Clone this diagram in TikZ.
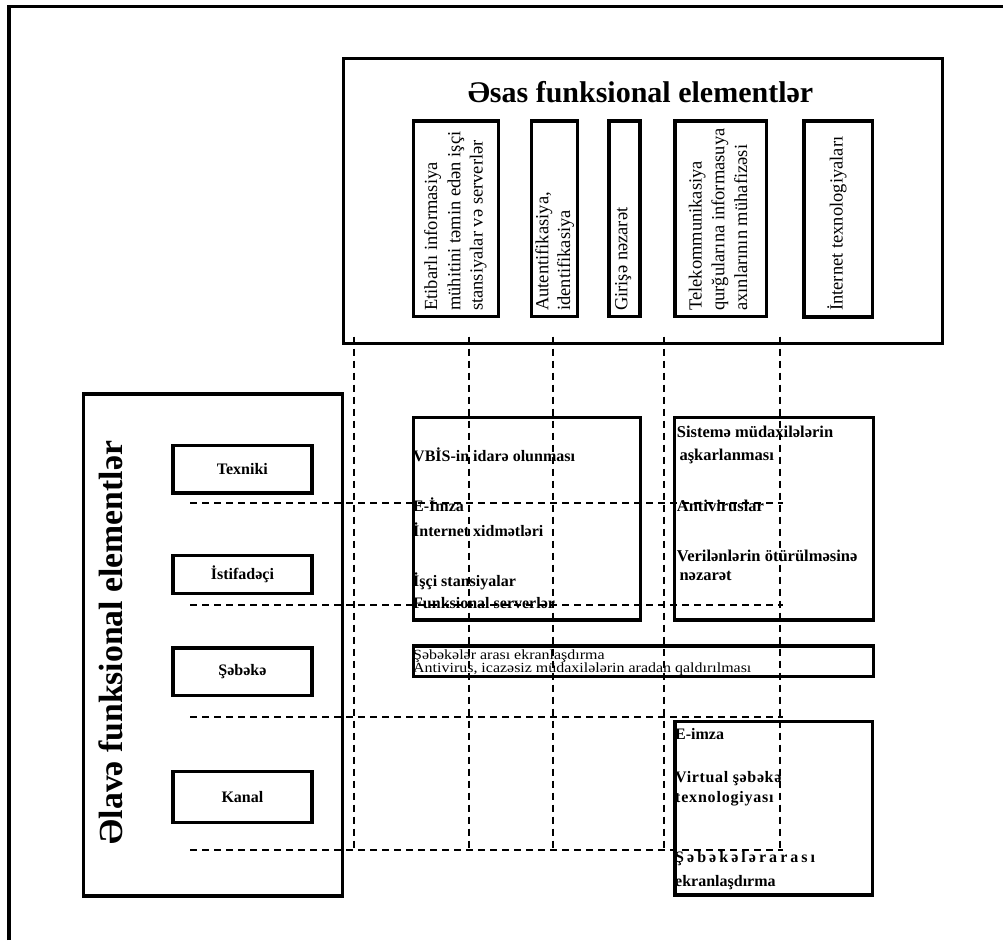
\documentclass[tikz,border=0pt]{standalone}
\usepackage{fontspec}
\setmainfont{Liberation Serif}
\newfontfamily\widefont[FakeStretch=1.14]{Liberation Serif}
\begin{document}
\begin{tikzpicture}[x=1pt,y=-1pt,
  box/.style={draw, line width=3.2pt, inner sep=0pt, anchor=north west},
  grid/.style={line width=1.8pt, dash pattern=on 7pt off 5pt},
  bt/.style={inner sep=0pt, anchor=base west, font=\fontsize{16}{18}\selectfont\bfseries},
  bts/.style={bt, font=\fontsize{16.5}{18}\selectfont\bfseries},
  rt/.style={inner sep=0pt, anchor=base west, font=\widefont\fontsize{14}{16}\selectfont},
  vt/.style={inner sep=0pt, anchor=base west, rotate=90, font=\fontsize{18.5}{20}\selectfont},
  lab/.style={box, font=\fontsize{16}{18}\selectfont\bfseries, minimum width=139pt}]
\useasboundingbox (0,0) rectangle (1003,940);
% outer frame (only top and left edges visible)
\draw[line width=3.3pt] (9,940) -- (9,6.7) -- (1003,6.7);

% top block
\node[box, minimum width=599pt, minimum height=285pt] (top) at (342,56.7) {};
\node[inner sep=0pt, anchor=base, font=\fontsize{30}{34}\selectfont\bfseries] (toptitle) at (640.5,102) {Əsas funksional elementlər};
\node[box, minimum width=85pt, minimum height=195.7pt] (b1) at (412,119.3) {};
\node[box, minimum width=45.7pt, minimum height=195.7pt] (b2) at (530,119.3) {};
\node[box, minimum width=31pt, minimum height=195.7pt] (b3) at (607.3,119.3) {};
\node[box, minimum width=91.7pt, minimum height=195.7pt] (b4) at (673.3,119.3) {};
\node[box, minimum width=68.4pt, minimum height=196pt] (b5) at (802.3,119.3) {};
\node[vt] (b1a) at (437,311) {Etibarlı informasiya};
\node[vt] (b1b) at (460.3,311) {mühitini təmin edən işçi};
\node[vt] (b1c) at (482.5,311) {stansiyalar və serverlər};
\node[vt] (b2a) at (548.3,311) {Autentifikasiya,};
\node[vt] (b2b) at (570,311) {identifikasiya};
\node[vt] (b3a) at (627.3,311) {Girişə nəzarət};
\node[vt] (b4a) at (701.7,311) {Telekommunikasiya};
\node[vt] (b4b) at (724.3,311) {qurğularına informasuya};
\node[vt] (b4c) at (747,311) {axınlarının mühafizəsi};
\node[vt] (b5a) at (842.7,311) {İnternet texnologiyaları};

% left block
\node[box, minimum width=259.3pt, minimum height=502pt] (left) at (81.7,392.3) {};
\node[inner sep=0pt, rotate=90, font=\fontsize{33.7}{36}\selectfont\bfseries] (lefttitle) at (111,642.5) {Əlavə funksional elementlər};
\node[lab, minimum height=47.6pt] (tex) at (171.3,443.7) {Texniki};
\node[lab, minimum height=38.3pt] (ist) at (171.3,553.7) {İstifadəçi};
\node[lab, minimum height=47.4pt] (seb) at (171.3,646.3) {Şəbəkə};
\node[lab, minimum height=51pt] (kan) at (171.3,769.7) {Kanal};

% content boxes
\node[box, minimum width=227pt, minimum height=202.6pt] (vbis) at (412,415.7) {};
\node[bt] (v1) at (413,461.7) {VBİS-in idarə olunması};
\node[bt] (v2) at (413,511.7) {E-İmza};
\node[bt] (v3) at (413,536.7) {İnternet xidmətləri};
\node[bt] (v4) at (413,586.7) {İşçi stansiyalar};
\node[bt] (v5) at (413,608) {Funksional serverlər};

\node[box, minimum width=199.3pt, minimum height=202.6pt] (sis) at (672.7,415.7) {};
\node[bts] (s1) at (676.7,437.7) {Sistemə müdaxilələrin};
\node[bts] (s2) at (679.3,460) {aşkarlanması};
\node[bts] (s3) at (676.7,511) {Antiviruslar};
\node[bts] (s4) at (676.7,561) {Verilənlərin ötürülməsinə};
\node[bts] (s5) at (679.3,580) {nəzarət};

\node[box, minimum width=459.7pt, minimum height=30.7pt] (wide) at (412,644.3) {};
\node[rt] (w1) at (413,659) {Şəbəkələr arası ekranlaşdırma};
\node[rt] (w2) at (413,672.5) {Antivirus, icazəsiz müdaxilələrin aradan qaldırılması};

\node[box, minimum width=197.4pt, minimum height=173.3pt] (eimza) at (673.3,720) {};
\node[bt] (e1) at (675,739) {E-imza};
\node[bt] (e2) at (675,782.7) {\addfontfeature{LetterSpace=4}Virtual şəbəkə};
\node[bt] (e3) at (675,802.7) {\addfontfeature{LetterSpace=5}texnologiyası};
\node[bt] (e4) at (675,862) {\addfontfeature{LetterSpace=19}Şəbəkələrarası};
\node[bt] (e5) at (675,886.7) {ekranlaşdırma};

% dashed grid
\foreach \gx in {354.3,468.7,552.7,664.3,780.3}
  \draw[grid] (\gx,336.7) -- (\gx,850);
\foreach \gy in {503.3,605,716.7,850}
  \draw[grid] (190,\gy) -- (783,\gy);
\end{tikzpicture}
\end{document}
